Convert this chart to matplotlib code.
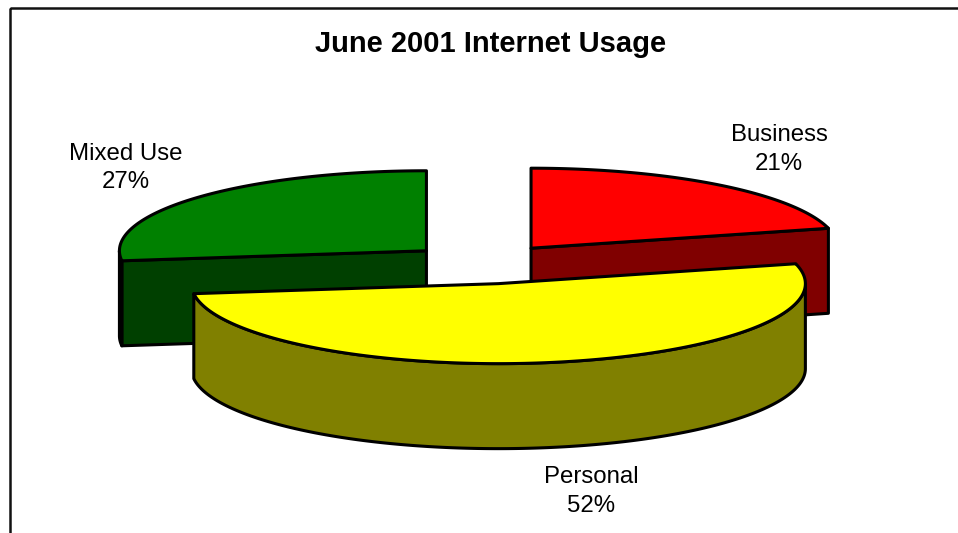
import numpy as np
import matplotlib
matplotlib.use("Agg")
import matplotlib.pyplot as plt
from matplotlib.patches import Polygon, Rectangle

# ---- data ----
categories = ["Business", "Personal", "Mixed Use"]
values = [21, 52, 27]
title = "June 2001 Internet Usage"

# ---- style ----
top_colors = ["#FF0000", "#FFFF00", "#008000"]
side_colors = ["#800000", "#808000", "#004000"]
label_nudge_x = [0, 17, 3]
W, H = 958, 533
CX, CY = 484.0, 264.0      # pie centre (pixels)
RX, RY = 307.0, 80.0       # ellipse radii
DEPTH = 85.0
EXPLODE = 0.25
LW = 2.2
FONT = "Liberation Sans"

fig = plt.figure(figsize=(W / 100, H / 100), dpi=100)
ax = fig.add_axes([0, 0, 1, 1])
ax.set_xlim(0, W)
ax.set_ylim(H, 0)
ax.axis("off")

# chart frame (extends past right / bottom edge)
ax.add_patch(Rectangle((10, 8), 980, 560, fill=False, ec="#111111", lw=1.8, zorder=1))

total = float(sum(values))
fracs = [v / total for v in values]
starts = np.cumsum([0] + fracs[:-1]) * 360.0
ends = starts + np.array(fracs) * 360.0


def pt(c, th, z=0.0):
    r = np.radians(th)
    return (c[0] + RX * np.sin(r), c[1] - RY * np.cos(r) + z)


def arc(c, a, b, z=0.0, n=None):
    if n is None:
        n = max(2, int(abs(b - a) * 2) + 1)
    ths = np.linspace(a, b, n)
    return [pt(c, t, z) for t in ths]


def poly(points, fc, zorder):
    ax.add_patch(Polygon(points, closed=True, fc=fc, ec="black", lw=LW,
                         joinstyle="round", zorder=zorder))


slices = []
for i in range(len(values)):
    a, b = starts[i], ends[i]
    mid = np.radians((a + b) / 2)
    c = (CX + EXPLODE * RX * np.sin(mid), CY - EXPLODE * RY * np.cos(mid))
    slices.append((i, a, b, c, mid))

# back slices first (centre further from viewer -> smaller y)
order = sorted(slices, key=lambda s: s[3][1])
z = 2
for i, a, b, c, mid in order:
    # visible cut faces
    for th, visible in ((b, np.sin(np.radians(b)) > 1e-6),
                        (a, np.sin(np.radians(a)) < -1e-6)):
        if visible:
            p0 = c
            p1 = pt(c, th)
            p2 = pt(c, th, DEPTH)
            p3 = (c[0], c[1] + DEPTH)
            poly([p0, p1, p2, p3], side_colors[i], z)
    # visible outer rim (90..270 deg)
    lo, hi = max(a, 90.0), min(b, 270.0)
    if hi > lo:
        pts = arc(c, lo, hi) + arc(c, hi, lo, DEPTH)
        poly(pts, side_colors[i], z)
    # top face
    poly([c] + arc(c, a, b), top_colors[i], z + 1)
    z += 2

# labels
for i, a, b, c, mid in slices:
    sx, cy_ = np.sin(mid), np.cos(mid)
    rim = pt(c, np.degrees(mid), DEPTH if cy_ < 0 else 0.0)
    lx = rim[0] + 98 * sx + label_nudge_x[i]
    ly = rim[1] - 45 * cy_
    ax.text(lx, ly, f"{categories[i]}\n{values[i]}%", ha="center", va="center",
            fontsize=17.3, family=FONT, linespacing=1.37, zorder=20)

ax.text(491, 52, title, ha="center", va="baseline", fontsize=21,
        fontweight="bold", family=FONT, zorder=20)

fig.savefig("out.png", dpi=100)
